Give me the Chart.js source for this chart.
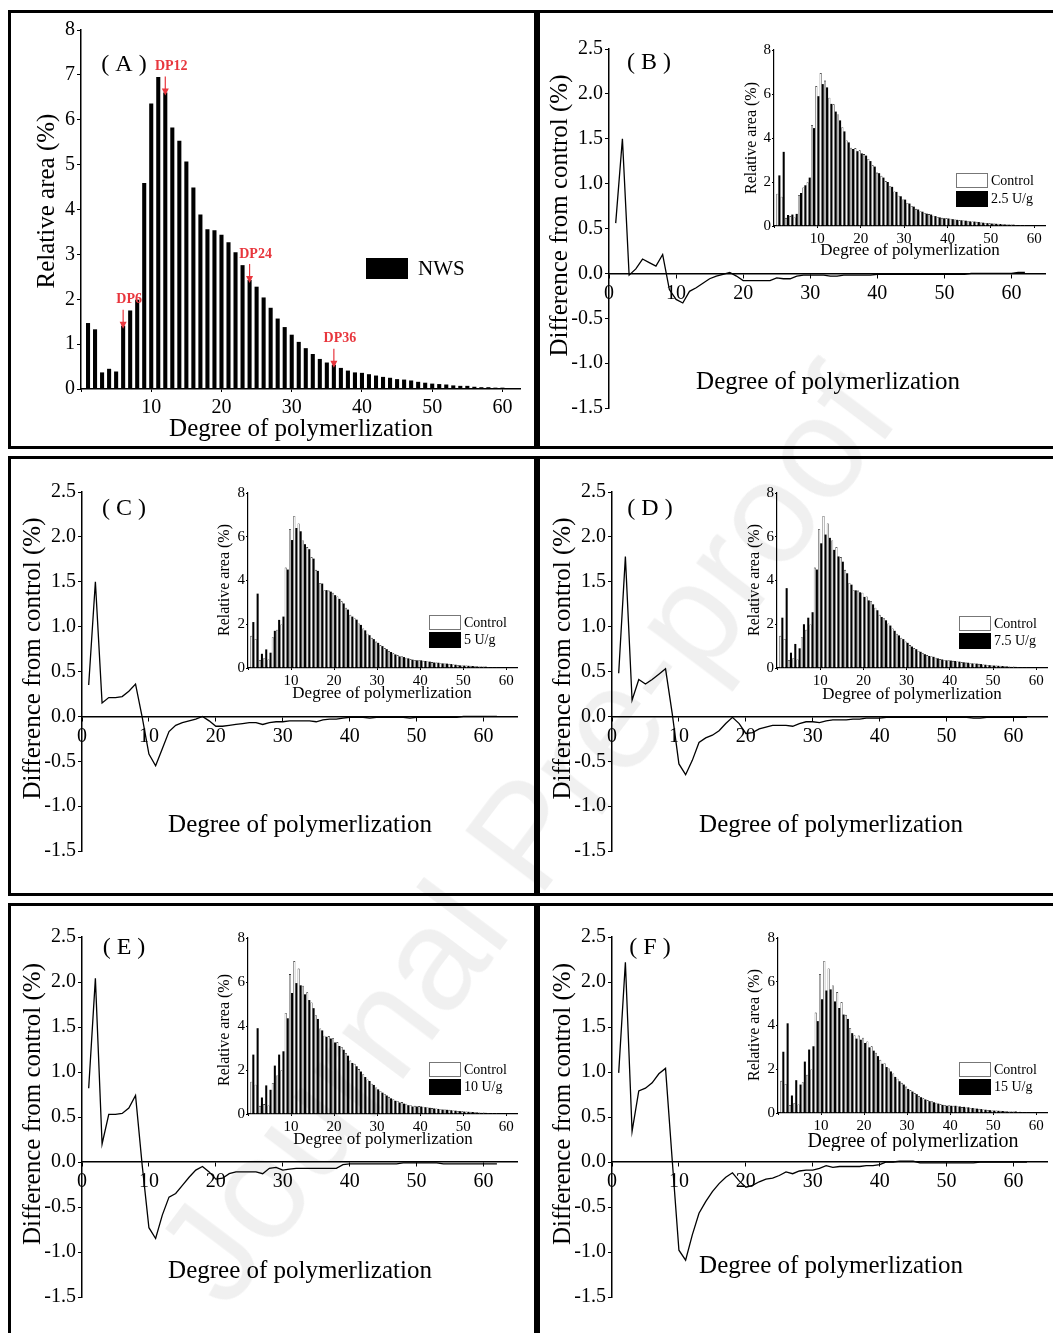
<!DOCTYPE html>
<html>
<head>
<meta charset="utf-8">
<script src="https://cdn.jsdelivr.net/npm/chart.js"></script>
<style>
html, body { margin: 0; padding: 0; background: #fff; }
body { position: relative; width: 1053px; height: 1333px; overflow: hidden; }
.panel { position: absolute; border: 3px solid #000; box-sizing: border-box; }
canvas { position: absolute; }
#wm { position: absolute; left: 525px; top: 835px; transform: translate(-50%, -50%) rotate(-53deg);
      font: 145px "Liberation Sans", Arial, sans-serif; color: rgba(0,0,0,0.06); white-space: nowrap; pointer-events: none; }
</style>
</head>
<body>
<div class="panel" style="left:8px;top:10px;width:529px;height:439px"></div>
<div class="panel" style="left:537px;top:10px;width:530px;height:439px"></div>
<div class="panel" style="left:8px;top:456px;width:529px;height:440px"></div>
<div class="panel" style="left:537px;top:456px;width:530px;height:440px"></div>
<div class="panel" style="left:8px;top:903px;width:529px;height:440px"></div>
<div class="panel" style="left:537px;top:903px;width:530px;height:440px"></div>

<canvas id="cA"></canvas>
<canvas id="cB"></canvas>
<canvas id="cC"></canvas>
<canvas id="cD"></canvas>
<canvas id="cE"></canvas>
<canvas id="cF"></canvas>
<canvas id="iB"></canvas>
<canvas id="iC"></canvas>
<canvas id="iD"></canvas>
<canvas id="iE"></canvas>
<canvas id="iF"></canvas>
<div id="wm">Journal Pre-proof</div>

<script>
// degree of polymerization (x categories)
var degree = [1,2,3,4,5,6,7,8,9,10,11,12,13,14,15,16,17,18,19,20,21,22,23,24,25,26,27,28,29,30,
              31,32,33,34,35,36,37,38,39,40,41,42,43,44,45,46,47,48,49,50,51,52,53,54,55,56,57,58,59,60,61,62];

// relative area (%) of native wheat starch (control)
var nwsArea = [1.47,1.33,0.37,0.45,0.39,1.41,1.75,1.99,4.59,6.36,6.95,6.61,5.83,5.53,5.07,4.49,3.89,3.56,3.54,3.44,
               3.27,3.05,2.76,2.43,2.28,2.04,1.81,1.57,1.38,1.21,1.05,0.91,0.78,0.67,0.59,0.54,0.47,0.41,0.37,0.36,
               0.33,0.30,0.27,0.25,0.22,0.21,0.19,0.16,0.14,0.12,0.11,0.10,0.08,0.07,0.07,0.05,0.04,0.04,0.03,0.03,0.02];

// relative area (%) after enzyme treatment (insets)
var area25 = [2.30,3.37,0.50,0.52,0.55,1.50,1.85,2.20,4.45,5.90,6.45,6.30,5.55,5.20,4.80,4.30,3.80,3.50,3.40,3.30,
              3.20,2.95,2.70,2.40,2.20,2.00,1.78,1.55,1.35,1.20,1.02,0.88,0.75,0.65,0.56,0.52,0.45,0.39,0.35,0.34,
              0.31,0.28,0.26,0.24,0.21,0.20,0.18,0.15,0.13,0.11,0.10,0.09,0.07,0.06,0.06,0.04,0.03,0.03,0.02,0.02,0.01];
var area5 = [2.10,3.40,0.65,0.85,0.70,1.70,2.20,2.35,4.50,5.85,6.40,6.25,5.66,5.43,5.00,4.44,3.86,3.56,3.49,3.33,
             3.16,2.95,2.67,2.35,2.21,1.97,1.72,1.50,1.32,1.15,1.00,0.86,0.73,0.62,0.53,0.50,0.44,0.38,0.35,0.35,
             0.32,0.29,0.25,0.24,0.21,0.20,0.18,0.15,0.12,0.11,0.10,0.09,0.07,0.06,0.06,0.04,0.04,0.04,0.03,0.03,0.02];
var area75 = [2.30,3.65,0.70,1.10,0.90,2.00,2.30,2.55,4.50,5.70,6.10,5.95,5.40,5.10,4.86,4.33,3.81,3.55,3.46,3.25,
              3.09,2.91,2.64,2.33,2.18,1.94,1.70,1.49,1.32,1.15,0.98,0.86,0.74,0.63,0.55,0.51,0.44,0.39,0.35,0.34,
              0.32,0.29,0.26,0.24,0.21,0.20,0.18,0.15,0.13,0.11,0.10,0.09,0.07,0.05,0.05,0.04,0.03,0.03,0.02,0.02,0.01];
var area10 = [2.70,3.90,0.75,1.30,1.10,2.20,2.70,2.85,4.35,5.50,5.95,5.85,5.44,5.18,4.81,4.32,3.80,3.51,3.43,3.25,
              3.09,2.92,2.65,2.32,2.17,1.93,1.68,1.50,1.32,1.12,0.97,0.84,0.71,0.60,0.52,0.47,0.40,0.34,0.34,0.34,
              0.31,0.28,0.25,0.23,0.20,0.19,0.17,0.15,0.13,0.11,0.10,0.09,0.07,0.05,0.05,0.03,0.02,0.02,0.01,0.01,0.01];
var area15 = [2.80,4.10,0.80,1.50,1.30,2.35,2.90,3.05,4.20,5.20,5.60,5.65,5.10,4.80,4.50,4.30,3.65,3.40,3.35,3.20,
              3.00,2.85,2.60,2.25,2.10,1.90,1.65,1.45,1.30,1.10,0.98,0.86,0.72,0.62,0.54,0.49,0.43,0.37,0.33,0.33,
              0.33,0.30,0.28,0.26,0.23,0.20,0.18,0.15,0.13,0.11,0.10,0.09,0.07,0.06,0.07,0.05,0.04,0.04,0.03,0.03,0.02];

// difference from control (%)
var diff25 = [0.56,1.50,-0.02,0.05,0.16,0.12,0.08,0.21,-0.18,-0.29,-0.33,-0.20,-0.16,-0.11,-0.06,-0.03,-0.01,0.01,-0.03,-0.08,
              -0.08,-0.08,-0.08,-0.08,-0.05,-0.06,-0.06,-0.03,-0.02,-0.02,-0.02,-0.02,-0.03,-0.03,-0.02,-0.02,-0.02,-0.02,-0.02,-0.01,
              -0.01,-0.01,-0.01,-0.01,-0.01,-0.01,-0.01,-0.01,-0.01,-0.01,-0.01,-0.01,-0.01,0.00,0.00,0.00,0.00,0.00,0.00,0.00,0.01,0.01];
var diff5 = [0.35,1.50,0.15,0.21,0.21,0.22,0.28,0.36,-0.01,-0.42,-0.55,-0.36,-0.17,-0.10,-0.07,-0.05,-0.03,0.00,-0.05,-0.11,
             -0.11,-0.10,-0.09,-0.08,-0.07,-0.07,-0.09,-0.07,-0.06,-0.06,-0.05,-0.05,-0.05,-0.05,-0.06,-0.04,-0.03,-0.03,-0.02,-0.01,
             -0.01,-0.01,-0.02,-0.01,-0.01,-0.01,-0.01,-0.01,-0.02,-0.01,-0.01,-0.01,-0.01,-0.01,-0.01,-0.01,0.00,0.00,0.00,0.00,0.00,0.00];
var diff75 = [0.48,1.78,0.18,0.41,0.36,0.41,0.47,0.53,0.03,-0.53,-0.65,-0.49,-0.29,-0.24,-0.21,-0.16,-0.08,-0.01,-0.08,-0.19,
              -0.18,-0.14,-0.12,-0.10,-0.10,-0.10,-0.11,-0.08,-0.06,-0.06,-0.07,-0.05,-0.04,-0.04,-0.04,-0.03,-0.03,-0.02,-0.02,-0.02,
              -0.01,-0.01,-0.01,-0.01,-0.01,-0.01,-0.01,-0.01,-0.01,-0.01,-0.01,-0.01,-0.01,-0.02,-0.02,-0.01,-0.01,-0.01,-0.01,-0.01,-0.01,-0.01];
var diff10 = [0.82,2.04,0.20,0.53,0.53,0.54,0.60,0.74,-0.04,-0.73,-0.85,-0.59,-0.39,-0.35,-0.26,-0.17,-0.09,-0.05,-0.11,-0.19,
              -0.18,-0.13,-0.11,-0.11,-0.11,-0.11,-0.13,-0.07,-0.06,-0.09,-0.08,-0.07,-0.07,-0.07,-0.07,-0.07,-0.07,-0.07,-0.03,-0.02,
              -0.02,-0.02,-0.02,-0.02,-0.02,-0.02,-0.02,-0.01,-0.01,-0.01,-0.01,-0.01,-0.01,-0.02,-0.02,-0.02,-0.02,-0.02,-0.02,-0.02,-0.02,-0.02];
var diff15 = [0.99,2.22,0.34,0.79,0.82,0.88,0.98,1.04,0.02,-0.98,-1.09,-0.81,-0.57,-0.44,-0.33,-0.24,-0.17,-0.12,-0.21,-0.28,
              -0.26,-0.22,-0.19,-0.18,-0.15,-0.11,-0.13,-0.10,-0.09,-0.09,-0.07,-0.04,-0.06,-0.05,-0.05,-0.05,-0.05,-0.04,-0.04,-0.03,
              0.00,0.00,0.01,0.01,0.01,-0.01,-0.01,-0.01,-0.01,-0.01,-0.01,-0.01,-0.01,-0.01,0.00,0.00,0.00,0.00,0.00,0.00,0.00,0.00];

// tick labels
var dpTicks = [0,10,20,30,40,50,60];
var areaTicks = [0,1,2,3,4,5,6,7,8];
var insetAreaTicks = [0,2,4,6,8];
var diffTicks = [-1.5,-1.0,-0.5,0.0,0.5,1.0,1.5,2.0,2.5];
var doses = ['2.5 U/g','5 U/g','7.5 U/g','10 U/g','15 U/g'];
var markedDP = [6,12,24,36];

var SERIF = '"Liberation Serif", "Noto Sans CJK SC", serif';
Chart.defaults.font.family = '"Liberation Serif", "Times New Roman", serif';
Chart.defaults.color = '#000';
Chart.defaults.animation = false;
Chart.defaults.plugins.legend.display = false;
Chart.defaults.plugins.tooltip.enabled = false;

function xy(vals) {
  return vals.map(function (v, i) { return { x: degree[i], y: v }; });
}
function setTicks(list) {
  return function (s) { s.ticks = list.map(function (v) { return { value: v }; }); };
}
function fixW(w) { return function (s) { s.width = w; }; }
function fixH(h) { return function (s) { s.height = h; }; }
function pad(g) {
  return { left: g.L - g.ox - g.yW, top: g.T - g.oy, right: g.ox + g.w - g.R, bottom: g.oy + g.h - g.B - g.xH };
}
function place(id, g) {
  var c = document.getElementById(id);
  c.width = g.w; c.height = g.h;
  c.style.left = g.ox + 'px'; c.style.top = g.oy + 'px';
  return c.getContext('2d');
}

// free text + legend swatches, given in page coordinates
var panelText = {
  id: 'panelText',
  afterDraw: function (chart, args, o) {
    var ctx = chart.ctx;
    (o.swatches || []).forEach(function (s) {
      ctx.fillStyle = s.fill;
      ctx.fillRect(s.x - o.ox, s.y - o.oy, s.w, s.h);
      if (s.stroke) {
        ctx.strokeStyle = s.stroke; ctx.lineWidth = 1;
        ctx.strokeRect(s.x - o.ox + 0.5, s.y - o.oy + 0.5, s.w - 1, s.h - 1);
      }
    });
    (o.items || []).forEach(function (t) {
      ctx.save();
      ctx.font = (t.bold ? 'bold ' : '') + t.size + 'px ' + SERIF;
      ctx.fillStyle = t.color || '#000';
      ctx.textAlign = t.align || 'center';
      ctx.textBaseline = 'middle';
      ctx.translate(t.x - o.ox, t.y - o.oy);
      if (t.rot) ctx.rotate(t.rot * Math.PI / 180);
      ctx.fillText(t.text, 0, 0);
      ctx.restore();
    });
  }
};

// red DP arrows on panel A, placed through the scales
var dpArrows = {
  id: 'dpArrows',
  afterDatasetsDraw: function (chart, args, o) {
    var xs = chart.scales.x, ys = chart.scales.y, ctx = chart.ctx;
    ctx.save();
    o.marks.forEach(function (dp) {
      var px = xs.getPixelForValue(dp);
      var top = ys.getPixelForValue(nwsArea[dp - 1]);
      ctx.strokeStyle = o.color; ctx.fillStyle = o.color; ctx.lineWidth = 1.2;
      ctx.beginPath(); ctx.moveTo(px, top - 16); ctx.lineTo(px, top - 2); ctx.stroke();
      ctx.beginPath(); ctx.moveTo(px - 3.5, top - 4); ctx.lineTo(px + 3.5, top - 4); ctx.lineTo(px, top + 3);
      ctx.closePath(); ctx.fill();
      ctx.font = 'bold 14px ' + SERIF; ctx.textAlign = 'center'; ctx.textBaseline = 'middle';
      ctx.fillText('DP' + dp, px + 6, top - 26);
    });
    ctx.restore();
  }
};

function axisStyle(tl) {
  return { drawOnChartArea: false, drawTicks: true, tickLength: tl, color: '#000', lineWidth: 1 };
}
var border = { display: true, color: '#000', width: 1.5 };

// panel A
var gA = { ox: 11, oy: 13, w: 523, h: 433, L: 81, T: 30, R: 520, B: 389, yW: 40, xH: 30 };
new Chart(place('cA', gA), {
  type: 'bar',
  data: { datasets: [{ label: 'NWS', data: xy(nwsArea), backgroundColor: '#000', borderWidth: 0,
                       categoryPercentage: 1, barPercentage: 0.58 }] },
  options: {
    responsive: false,
    layout: { padding: pad(gA) },
    scales: {
      x: { type: 'linear', offset: false, min: 0, max: 62.5, afterBuildTicks: setTicks(dpTicks), afterFit: fixH(gA.xH),
           grid: Object.assign(axisStyle(3), { offset: false }), border: border,
           ticks: { font: { size: 20 }, padding: 4, maxRotation: 0, autoSkip: false,
                    callback: function (v) { return v === 0 ? '' : v; } } },
      y: { min: 0, max: 8, afterBuildTicks: setTicks(areaTicks), afterFit: fixW(gA.yW),
           grid: axisStyle(4), border: border, ticks: { font: { size: 20 }, padding: 2 } }
    },
    plugins: {
      dpArrows: { marks: markedDP, color: '#e8363d' },
      panelText: {
        ox: gA.ox, oy: gA.oy,
        swatches: [{ x: 366, y: 258, w: 42, h: 21, fill: '#000' }],
        items: [
          { text: '( A )', x: 124, y: 65, size: 24 },
          { text: 'Relative area (%)', x: 47, y: 201, size: 25, rot: -90 },
          { text: 'Degree of polymerlization', x: 301, y: 429, size: 25 },
          { text: 'NWS', x: 418, y: 269, size: 21, align: 'left' }
        ]
      }
    }
  },
  plugins: [panelText, dpArrows]
});

function diffChart(id, g, values, letter, lx, ly, xt) {
  new Chart(place(id, g), {
    type: 'line',
    data: { datasets: [{ data: xy(values), borderColor: '#000', borderWidth: 1.3, pointRadius: 0, tension: 0, fill: false }] },
    options: {
      responsive: false,
      layout: { padding: pad(g) },
      scales: {
        x: { type: 'linear', min: 0, max: 65, position: { y: 0 }, afterBuildTicks: setTicks(dpTicks),
             grid: axisStyle(4), border: border,
             ticks: { font: { size: 20 }, padding: 4, maxRotation: 0, autoSkip: false } },
        y: { type: 'linear', min: -1.5, max: 2.5, afterBuildTicks: setTicks(diffTicks), afterFit: fixW(g.yW),
             grid: axisStyle(4), border: border,
             ticks: { font: { size: 20 }, padding: 2, callback: function (v) { return v.toFixed(1); } } }
      },
      plugins: {
        panelText: {
          ox: g.ox, oy: g.oy,
          items: [
            { text: '( ' + letter + ' )', x: lx, y: ly, size: 24 },
            { text: 'Difference from control (%)', x: g.L - 49, y: (g.T + g.B) / 2 - 13, size: 25, rot: -90 },
            { text: 'Degree of polymerlization', x: xt[0], y: xt[1], size: 25 }
          ]
        }
      }
    },
    plugins: [panelText]
  });
}

function insetChart(id, g, treated, dose, lg, titleSize, yt, xt) {
  new Chart(place(id, g), {
    type: 'bar',
    data: { datasets: [
      { label: 'Control', data: xy(nwsArea), backgroundColor: '#fff', borderColor: '#000', borderWidth: 0.6,
        categoryPercentage: 0.95, barPercentage: 1 },
      { label: dose, data: xy(treated), backgroundColor: '#000', borderWidth: 0,
        categoryPercentage: 0.95, barPercentage: 1 }
    ] },
    options: {
      responsive: false,
      layout: { padding: pad(g) },
      scales: {
        x: { type: 'linear', offset: false, min: 0, max: 62.5, afterBuildTicks: setTicks(dpTicks), afterFit: fixH(g.xH),
             grid: Object.assign(axisStyle(2), { offset: false }), border: { display: true, color: '#000', width: 1.2 },
             ticks: { font: { size: 15 }, padding: 2, maxRotation: 0, autoSkip: false,
                      callback: function (v) { return v === 0 ? '' : v; } } },
        y: { min: 0, max: 8, afterBuildTicks: setTicks(insetAreaTicks), afterFit: fixW(g.yW),
             grid: axisStyle(2), border: { display: true, color: '#000', width: 1.2 },
             ticks: { font: { size: 15 }, padding: 1 } }
      },
      plugins: {
        panelText: {
          ox: g.ox, oy: g.oy,
          swatches: [
            { x: lg.x, y: lg.y1, w: 32, h: 15, fill: '#fff', stroke: '#777' },
            { x: lg.x, y: lg.y2, w: 32, h: 16, fill: '#000' }
          ],
          items: [
            { text: 'Relative area (%)', x: yt[0], y: yt[1], size: 16, rot: -90 },
            { text: 'Degree of polymerlization', x: xt[0], y: xt[1], size: titleSize },
            { text: 'Control', x: lg.x + 35, y: lg.y1 + 8, size: 14, align: 'left' },
            { text: dose, x: lg.x + 35, y: lg.y2 + 8, size: 14, align: 'left' }
          ]
        }
      }
    },
    plugins: [panelText]
  });
}

var gB = { ox: 540, oy: 13, w: 513, h: 433, L: 609, T: 49, R: 1045, B: 408, yW: 44, xH: 0 };
var gC = { ox: 11, oy: 459, w: 523, h: 434, L: 82, T: 492, R: 517, B: 851, yW: 44, xH: 0 };
var gD = { ox: 540, oy: 459, w: 513, h: 434, L: 612, T: 492, R: 1047, B: 851, yW: 44, xH: 0 };
var gE = { ox: 11, oy: 906, w: 523, h: 427, L: 82, T: 937, R: 517, B: 1297, yW: 44, xH: 0 };
var gF = { ox: 540, oy: 906, w: 513, h: 427, L: 612, T: 937, R: 1047, B: 1297, yW: 44, xH: 0 };

diffChart('cB', gB, diff25, 'B', 649, 63, [828, 382]);
diffChart('cC', gC, diff5, 'C', 124, 509, [300, 825]);
diffChart('cD', gD, diff75, 'D', 650, 509, [831, 825]);
diffChart('cE', gE, diff10, 'E', 124, 948, [300, 1271]);
diffChart('cF', gF, diff15, 'F', 650, 948, [831, 1266]);

var hB = { ox: 730, oy: 38, w: 320, h: 225, L: 774, T: 50, R: 1045, B: 226, yW: 20, xH: 20 };
var hC = { ox: 204, oy: 480, w: 330, h: 225, L: 248, T: 493, R: 517, B: 668, yW: 20, xH: 20 };
var hD = { ox: 733, oy: 480, w: 320, h: 225, L: 777, T: 493, R: 1047, B: 668, yW: 20, xH: 20 };
var hE = { ox: 204, oy: 926, w: 330, h: 225, L: 248, T: 938, R: 517, B: 1114, yW: 20, xH: 20 };
var hF = { ox: 734, oy: 926, w: 319, h: 225, L: 778, T: 938, R: 1047, B: 1113, yW: 20, xH: 20 };

insetChart('iB', hB, area25, doses[0], { x: 956, y1: 173, y2: 191 }, 17, [752, 138], [910, 251]);
insetChart('iC', hC, area5, doses[1], { x: 429, y1: 615, y2: 632 }, 17, [225, 580], [382, 694]);
insetChart('iD', hD, area75, doses[2], { x: 959, y1: 616, y2: 633 }, 17, [755, 580], [912, 695]);
insetChart('iE', hE, area10, doses[3], { x: 429, y1: 1062, y2: 1079 }, 17, [225, 1030], [383, 1140]);
insetChart('iF', hF, area15, doses[4], { x: 959, y1: 1062, y2: 1079 }, 20, [755, 1025], [913, 1142]);
</script>
</body>
</html>
